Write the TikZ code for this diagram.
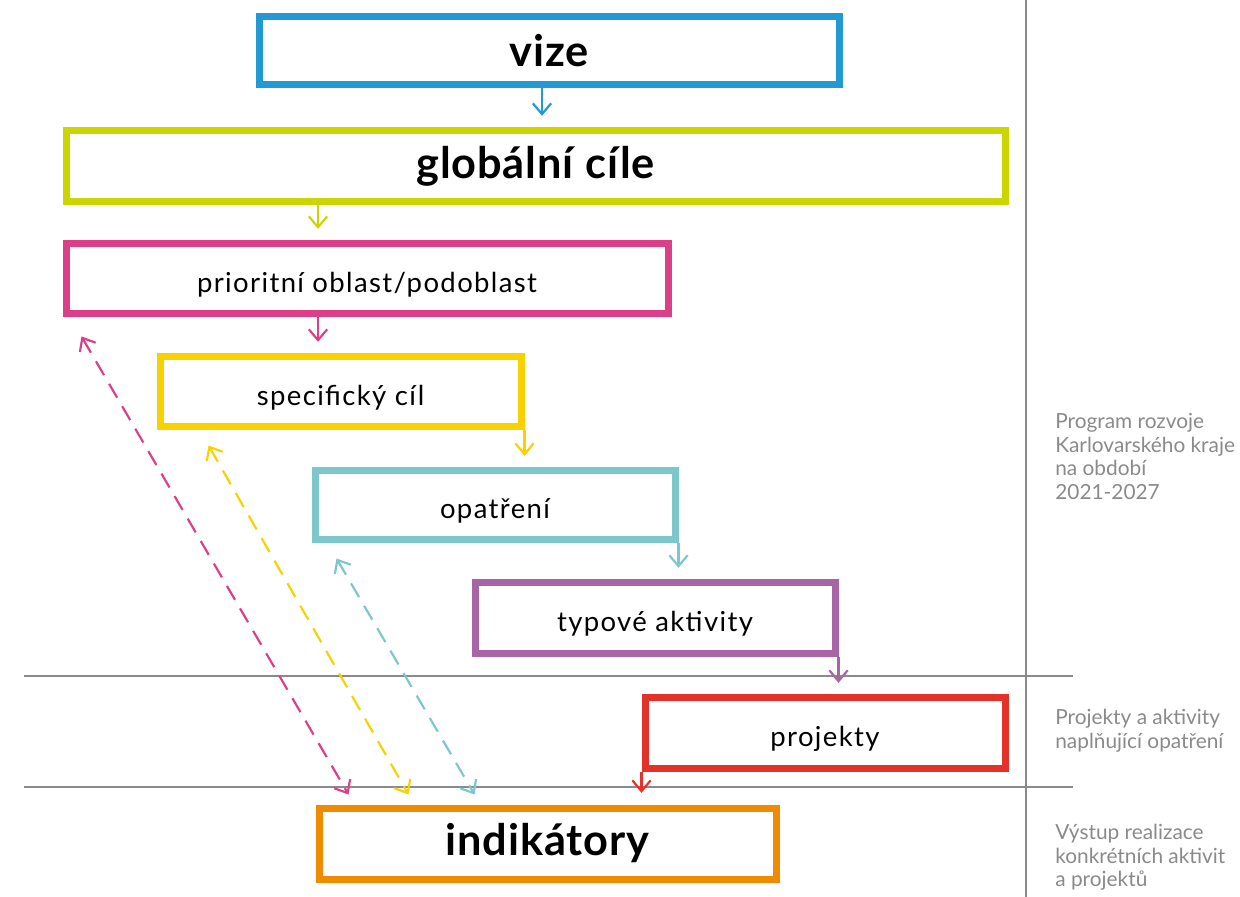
\documentclass[tikz,border=0pt]{standalone}
\usepackage{fontspec}
\setmainfont{Lato}
\newfontfamily\boxfont[LetterSpace=5]{Lato}
\newfontfamily\bigfont[LetterSpace=2]{Lato}
\usetikzlibrary{arrows.meta,positioning,calc}

\definecolor{cvize}{HTML}{2399D3}
\definecolor{cglob}{HTML}{CDD500}
\definecolor{cprior}{HTML}{DC3F87}
\definecolor{cspec}{HTML}{F8D200}
\definecolor{copat}{HTML}{7DC7CC}
\definecolor{ctyp}{HTML}{A865A5}
\definecolor{cproj}{HTML}{E3322A}
\definecolor{cind}{HTML}{EF8B00}
\definecolor{cline}{HTML}{8A8A8A}

\begin{document}
\begin{tikzpicture}[x=0.6pt,y=-0.6pt,
  box/.style={draw, line width=4.2pt, inner sep=0pt, text height=19pt, text depth=3pt, font=\boxfont\fontsize{16.5}{18}\selectfont},
  big/.style={text height=, text depth=, font=\bigfont\fontsize{26}{30}\selectfont\bfseries},
  flow/.style={-{Straight Barb[length=6.5pt,width=11pt]}, line width=1.3pt, shorten >=7pt},
  link/.style={{Straight Barb[length=6.5pt,width=11pt]}-{Straight Barb[length=6.5pt,width=11pt]}, line width=1.3pt, dash pattern=on 9.6pt off 6pt},
  side/.style={anchor=north west, align=left, text=cline, inner sep=0pt, font=\fontsize{12.5}{14.1}\selectfont},
  rule/.style={draw=cline, line width=0.8pt}]
  \useasboundingbox (0,0) rectangle (1240,897);

  % dividing lines
  \coordinate (r1a) at (24,676);   \coordinate (r1b) at (1073,676);
  \coordinate (r2a) at (24,787);   \coordinate (r2b) at (1073,787);
  \coordinate (vt) at (1026,0);    \coordinate (vb) at (1026,897);
  \draw[rule] (r1a) -- (r1b);
  \draw[rule] (r2a) -- (r2b);
  \draw[rule] (vt) -- (vb);

  % boxes
  \node[box, big, draw=cvize, minimum width=348pt, minimum height=40.8pt] (vize) at (549,51) {vize};
  \node[box, big, draw=cglob, minimum width=563.4pt, minimum height=42.6pt] (glob) at (535.5,166.5) {globální cíle};
  \node[box, draw=cprior, minimum width=361.2pt, minimum height=42pt] (prior) at (367,279) {prioritní oblast/podoblast};
  \node[box, draw=cspec, minimum width=216.6pt, minimum height=42pt] (spec) at (340.5,392) {specifický cíl};
  \node[box, draw=copat, minimum width=216pt, minimum height=41.4pt] (opat) at (495,505.5) {opatření};
  \node[box, draw=ctyp, minimum width=216pt, minimum height=42.6pt] (typ) at (655,618.5) {typové aktivity};
  \node[box, draw=cproj, minimum width=216pt, minimum height=42.6pt] (proj) at (825,733.5) {projekty};
  \node[box, big, draw=cind, minimum width=274.2pt, minimum height=42.6pt] (ind) at (547.5,843.5) {indikátory};

  % side notes
  \node[side] (prog) at (1055,413) {Program rozvoje\\Karlovarského kraje\\na období\\2021-2027};
  \node[side] (real) at (1055,709) {Projekty a aktivity\\naplňující opatření};
  \node[side] (vyst) at (1055,824) {Výstup realizace\\konkrétních aktivit\\a projektů};

  % flow arrows
  \draw[flow, cvize] ([shift={(-7,0)}]vize.south) -- ([shift={(-7,0)}]vize.south |- glob.north);
  \draw[flow, cglob] ([shift={(-49,0)}]prior.north |- glob.south) -- ([shift={(-49,0)}]prior.north);
  \draw[flow, cprior] ([shift={(-49,0)}]prior.south) -- ([shift={(-49,0)}]prior.south |- spec.north);
  \draw[flow, cspec] (spec.south east) -- (spec.south east |- opat.north);
  \draw[flow, copat] (opat.south east) -- (opat.south east |- typ.north);
  \draw[flow, ctyp] (typ.south east) -- (typ.south east |- proj.north);
  \draw[flow, cproj] (proj.south west) -- (proj.south west |- ind.north);

  % links to indicators
  \draw[link, cprior] ([shift={(19,19)}]prior.south west) -- ([shift={(33,-10)}]ind.north west);
  \draw[link, cspec] ([shift={(52,15)}]spec.south west) -- ([shift={(93,-10)}]ind.north west);
  \draw[link, copat] ([shift={(25,15)}]opat.south west) -- ([shift={(159,-10)}]ind.north west);
\end{tikzpicture}
\end{document}
